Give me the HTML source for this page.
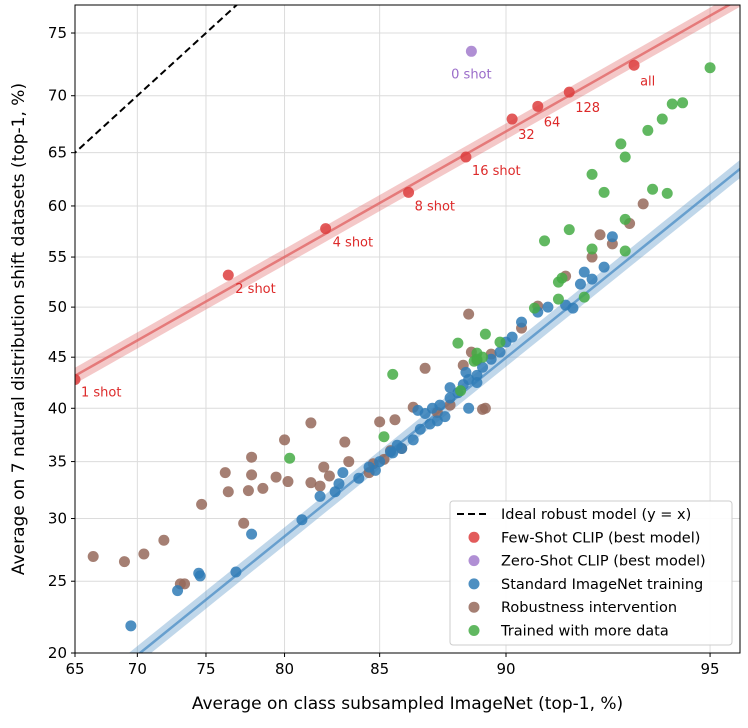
<!DOCTYPE html>
<html><head><meta charset="utf-8"><style>
body{margin:0;background:#fff;font-family:"DejaVu Sans","Liberation Sans",sans-serif}
svg text{font-family:"DejaVu Sans","Liberation Sans",sans-serif}
</style></head><body>
<svg id="c" width="748" height="724" xmlns="http://www.w3.org/2000/svg"></svg>
<script>
const xTicks=[65,70,75,80,85,90,95];
const yTicks=[20,25,30,35,40,45,50,55,60,65,70,75];
const fewX=[65,76.5,82.3,86.3,88.6,90.2,91,91.9,93.5];
const fewY=[42.8,53.2,57.8,61.3,64.6,68,69.1,70.3,72.5];
const fewLabels=["1 shot","2 shot","4 shot","8 shot","16 shot","32","64","128","all"];
const zeroX=[88.8];const zeroY=[73.6];
const greenX=[95,94.5,94.3,94.1,93.8,93.2,93.3,92.8,93.9,94.2,92.5,93.3,93.3,92.5,91.9,91.2,91.7,91.6,91.6,92.3,90.9,89.3,89.8,88.3,89,89.2,89,88.9,85.6,88.4,85.2,80.3];
const greenY=[72.3,69.4,69.3,68,67,65.8,64.6,61.3,61.6,61.2,63,58.7,55.6,55.8,57.7,56.6,52.9,52.5,50.8,51,49.9,47.3,46.5,46.4,45.4,45,44.8,44.6,43.3,41.7,37.3,35.3];
const blueX=[69.5,73,74.5,74.6,77,78,81,82,82.8,83,83.2,84,84.5,85,85.6,85.8,86,86.5,86.8,87.2,87.5,87,87.3,87.6,88,88.3,88.5,88.7,89,89.2,89.5,89.8,90,90.2,90.5,91,91.3,91.8,92,92.2,92.3,92.5,92.8,93,86.7,88.7,87.8,85.5,84.8,88,89,88.6];
const blueY=[21.8,24.3,25.6,25.4,25.7,28.7,29.9,31.9,32.3,33,34,33.5,34.5,35,35.8,36.5,36.2,37,38,38.5,38.8,39.5,40,40.3,41,41.5,42.3,42.8,43.2,44,44.8,45.5,46.5,47,48.5,49.5,50,50.2,49.9,52.3,53.5,52.8,54,57,39.8,40,39.2,35.9,34.2,42,42.5,43.5];
const brownX=[66.5,69,70.5,72,73.2,73.5,74.7,76.5,76.3,77.5,77.8,78,78,78.7,79.5,80,80.2,81.5,81.5,82,82.2,82.5,83.3,83.5,84.5,84.7,85,85.2,85.5,85.7,86,86.5,87,87.5,88,88.5,88.8,89.2,89.5,89,88.7,90.5,91,91.8,92.5,93,93.4,93.7,92.7,89.3];
const brownY=[26.9,26.5,27.1,28.2,24.8,24.8,31.2,32.3,34,29.6,32.4,35.4,33.8,32.6,33.6,37,33.2,33.1,38.6,32.8,34.5,33.7,36.8,35,34,34.8,38.7,35.2,36,38.9,36.2,40.1,43.9,39.6,40.3,44.2,45.5,39.9,45.3,44.7,49.3,47.9,50.1,53.1,55,56.3,58.3,60.2,57.2,40];
const L=75,R=740,T=5,B=653;
const lg=p=>Math.log(p/(100-p));
const sx=v=>L+273.1*(lg(v)-lg(65));
const sy=v=>B-249.5*(lg(v)-lg(20));
const svg=document.getElementById('c');const NS='http://www.w3.org/2000/svg';
function mk(t,a,p){const e=document.createElementNS(NS,t);for(const k in a)e.setAttribute(k,a[k]);(p||svg).appendChild(e);return e;}
const defs=mk('defs',{});const cp=mk('clipPath',{id:'cp'},defs);mk('rect',{x:L,y:T,width:R-L,height:B-T},cp);
xTicks.forEach(t=>{const x=sx(t);
const g=mk('line',{x1:x,x2:x,y1:T,y2:B,stroke:'#dcdcdc','stroke-width':1});

mk('line',{x1:x,x2:x,y1:B,y2:B+4,stroke:'#000'});
const tx=mk('text',{x:x,y:B+21,'text-anchor':'middle','font-size':15});tx.textContent=t;
});
yTicks.forEach(t=>{const y=sy(t);
const g=mk('line',{x1:L,x2:R,y1:y,y2:y,stroke:'#dcdcdc','stroke-width':1});

mk('line',{x1:L-4,x2:L,y1:y,y2:y,stroke:'#000'});
const tx=mk('text',{x:L-8,y:y+5,'text-anchor':'end','font-size':15});tx.textContent=t;
});
const pg=mk('g',{'clip-path':'url(#cp)'});
function fitLine(x0,y0,x1,y1,col,w,name){const pts=[];for(let i=0;i<=40;i++){const a=lg(x0)+(lg(x1)-lg(x0))*i/40;const p=100/(1+Math.exp(-a));
const b=lg(y0)+(lg(y1)-lg(y0))*i/40;const q=100/(1+Math.exp(-b));pts.push(sx(p)+','+sy(q));}
mk('polyline',{points:pts.join(' '),fill:'none',stroke:col,'stroke-width':w,'stroke-opacity':0.35},pg);
const e=mk('polyline',{points:pts.join(' '),fill:'none',stroke:col,'stroke-width':2.5,'stroke-opacity':0.75},pg);
}
fitLine(64,42.5,96,78.8,'#e06060',14,'few-shot-fit-line');
fitLine(69.6,19.6,96,66,'#4a8cc4',14,'imagenet-fit-line');
const dl=mk('line',{x1:sx(64),y1:sy(64),x2:sx(80),y2:sy(80),stroke:'#000','stroke-width':2,'stroke-dasharray':'7,4'},pg);

function pts(X,Y,col,name){X.forEach((v,i)=>{const c=mk('circle',{cx:sx(v),cy:sy(Y[i]),r:5.5,fill:col,'fill-opacity':0.85},pg);
});}
pts(brownX,brownY,'#95685a','robustness-point');
pts(blueX,blueY,'#2f7bb6','imagenet-point');
pts(greenX,greenY,'#45ac45','more-data-point');
pts(fewX,fewY,'#dd3e3e','few-shot-point');
pts(zeroX,zeroY,'#a27bcc','zero-shot-point');
const offs=[[6,17],[7,18],[7,18],[6,18],[6,18],[6,20],[6,20],[6,20],[6,20]];
fewX.forEach((v,i)=>{const t=mk('text',{x:sx(v)+offs[i][0],y:sy(fewY[i])+offs[i][1],'font-size':13,fill:'#dd2a2a'});t.textContent=fewLabels[i];
});
const zt=mk('text',{x:sx(88.8),y:sy(73.6)+27,'font-size':13,fill:'#9a6cc9','text-anchor':'middle'});zt.textContent='0 shot';

mk('rect',{x:L,y:T,width:R-L,height:B-T,fill:'none',stroke:'#000','stroke-width':1});
const xl=mk('text',{x:(L+R)/2,y:709,'text-anchor':'middle','font-size':17});xl.textContent='Average on class subsampled ImageNet (top-1, %)';

const yl=mk('text',{x:0,y:0,'text-anchor':'middle','font-size':17,transform:'translate(24,'+(T+B)/2+') rotate(-90)'});yl.textContent='Average on 7 natural distribution shift datasets (top-1, %)';

const lgG=mk('g',{});
mk('rect',{x:450,y:501,width:282,height:144,rx:3,fill:'#fff','fill-opacity':0.9,stroke:'#ccc'},lgG);
const legT=['Ideal robust model (y = x)','Few-Shot CLIP (best model)','Zero-Shot CLIP (best model)','Standard ImageNet training','Robustness intervention','Trained with more data'];
const legC=[null,'#dd3e3e','#a27bcc','#2f7bb6','#95685a','#45ac45'];
legT.forEach((s,i)=>{const y=514+i*23.3;
if(i===0)mk('line',{x1:457,x2:488,y1:y,y2:y,stroke:'#000','stroke-width':2,'stroke-dasharray':'7,4'},lgG);
else mk('circle',{cx:474,cy:y,r:5.5,fill:legC[i],'fill-opacity':0.85},lgG);
const t=mk('text',{x:501,y:y+5,'font-size':14.5},lgG);t.textContent=s;
});
</script></body></html>
